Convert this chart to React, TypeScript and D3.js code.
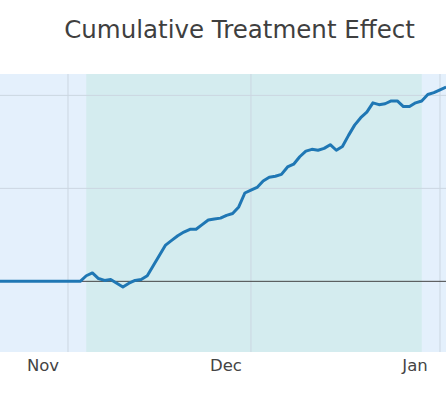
import * as d3 from 'd3';

// daily cumulative effect, starting Oct 20
const startDate = new Date(Date.UTC(2020, 9, 20));
const effectValues = [
  0, 0, 0, 0, 0, 0, 0, 0, 0, 0, 0, 0, 0, 0, 0,
  6, 9, 3, 1, 2, -2, -6, -2, 1, 2,
  6, 17, 28, 39, 44, 49, 53, 56, 56, 61,
  66, 67, 68, 71, 73, 80, 95, 98, 101, 108,
  112, 113, 115, 123, 126, 134, 140, 142, 141, 143,
  147, 141, 145, 157, 168, 176, 182, 192, 190, 191,
  194, 194, 188, 188, 192, 194, 201, 203, 206, 209,
];
const treatmentPeriod = [new Date(Date.UTC(2020, 10, 4)), new Date(Date.UTC(2020, 11, 29))];
const monthTicks = [
  new Date(Date.UTC(2020, 10, 1)),
  new Date(Date.UTC(2020, 11, 1)),
  new Date(Date.UTC(2021, 0, 1)),
];
const monthLabels = ['Nov', 'Dec', 'Jan'];
const yGridValues = [100, 200];

const W = 446;
const H = 400;
const plot = { left: 0, right: 446, top: 74, bottom: 352 };
const font = '"DejaVu Sans", Verdana, sans-serif';

export default function App() {
  const series = effectValues.map((v, i) => ({ date: d3.utcDay.offset(startDate, i), value: v }));

  const x = d3.scaleUtc()
    .domain([monthTicks[0], monthTicks[2]])
    .range([68, 440]);
  const y = d3.scaleLinear()
    .domain([-76, 223])
    .range([plot.bottom, plot.top]);

  const line = d3.line<{ date: Date; value: number }>()
    .x(d => x(d.date))
    .y(d => y(d.value));

  return (
    <svg width={W} height={H} style={{ position: 'absolute', left: 0, top: 0, background: '#fff' }}>
      <defs>
        <clipPath id="plot-clip">
          <rect x={plot.left} y={plot.top} width={plot.right - plot.left} height={plot.bottom - plot.top} />
        </clipPath>
      </defs>
      <text x={239.5} y={38} textAnchor="middle" fontFamily={font} fontSize={24.5} fill="#3f3f3f">
        Cumulative Treatment Effect
      </text>
      <g clipPath="url(#plot-clip)">
        <rect x={plot.left} y={plot.top} width={plot.right - plot.left} height={plot.bottom - plot.top} fill="#e4f0fc" />
        <rect
          x={x(treatmentPeriod[0])}
          y={plot.top}
          width={x(treatmentPeriod[1]) - x(treatmentPeriod[0])}
          height={plot.bottom - plot.top}
          fill="#d4ecef"
        />
        {yGridValues.map(v => (
          <line key={v} x1={plot.left} x2={plot.right} y1={y(v)} y2={y(v)} stroke="#cbd6e1" strokeWidth={1} />
        ))}
        {monthTicks.map((t, i) => (
          <line key={i} x1={x(t)} x2={x(t)} y1={plot.top} y2={plot.bottom} stroke="#cbd6e1" strokeWidth={1} />
        ))}
        <line x1={plot.left} x2={plot.right} y1={y(0)} y2={y(0)} stroke="#444" strokeWidth={1} />
        <path d={line(series) ?? ''} fill="none" stroke="#1f77b4" strokeWidth={3} strokeLinejoin="round" />
      </g>
      {monthTicks.map((t, i) => (
        <text key={i} x={x(t) - 25} y={371} textAnchor="middle" fontFamily={font} fontSize={16.5} fill="#444">
          {monthLabels[i]}
        </text>
      ))}
    </svg>
  );
}
